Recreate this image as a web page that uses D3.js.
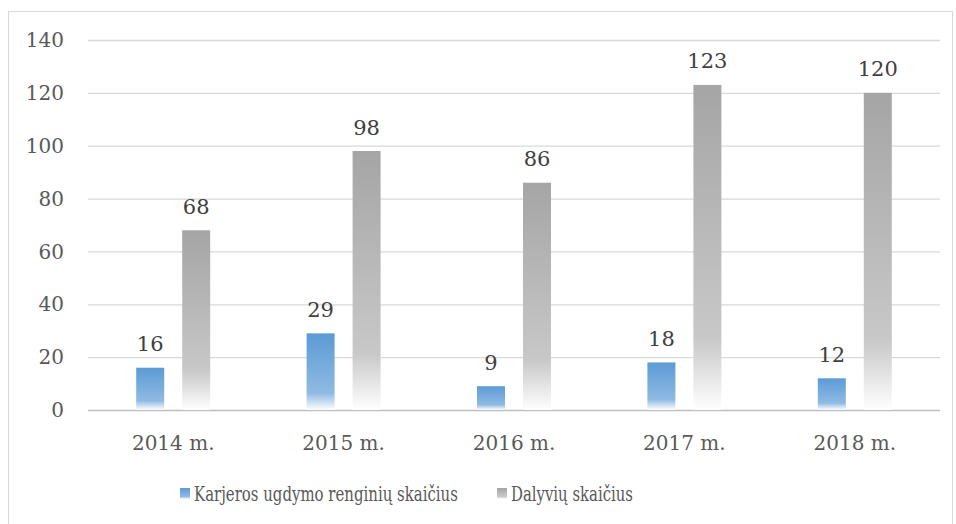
<!DOCTYPE html>
<html>
<head>
<meta charset="utf-8">
<script src="https://cdn.jsdelivr.net/npm/d3@7"></script>
<style>
  body { margin: 0; background: #fff; }
  svg { font-family: "DejaVu Serif", serif; }
</style>
</head>
<body>
<svg id="chart"></svg>
<script>
// chart data
var years = ["2014 m.", "2015 m.", "2016 m.", "2017 m.", "2018 m."];
var renginiai = [16, 29, 9, 18, 12];
var dalyviai = [68, 98, 86, 123, 120];
var seriesNames = ["Karjeros ugdymo renginių skaičius", "Dalyvių skaičius"];
var yTicks = [0, 20, 40, 60, 80, 100, 120, 140];

var W = 956, H = 524;
var margin = {top: 40, right: 16, bottom: 114, left: 88};
var width = W - margin.left - margin.right,
    height = H - margin.top - margin.bottom;

var svg = d3.select("#chart").attr("width", W).attr("height", H);

// gradients for the bars
var defs = svg.append("defs");
function grad(id, top, mid) {
  var g = defs.append("linearGradient").attr("id", id)
      .attr("x1", 0).attr("y1", 0).attr("x2", 0).attr("y2", 1);
  g.append("stop").attr("offset", "0%").attr("stop-color", top);
  g.append("stop").attr("offset", "78%").attr("stop-color", mid);
  g.append("stop").attr("offset", "100%").attr("stop-color", "#ffffff");
}
grad("gBlue", "#5b9bd5", "#8fbae3");
grad("gGray", "#a5a5a5", "#c8c8c8");

// outer frame
svg.append("rect")
    .attr("x", 8.5).attr("y", 11.5)
    .attr("width", W - 12).attr("height", H - 10)
    .attr("fill", "none").attr("stroke", "#d9d9d9");

var g = svg.append("g").attr("transform", "translate(" + margin.left + "," + margin.top + ")");

var x0 = d3.scaleBand().domain(years).range([0, width]);
var y = d3.scaleLinear().domain([0, 140]).range([height, 0]);

// gridlines
g.selectAll(".grid").data(yTicks).enter().append("line")
    .attr("x1", 0).attr("x2", width)
    .attr("y1", function(d){ return y(d) + 0.5; })
    .attr("y2", function(d){ return y(d) + 0.5; })
    .attr("stroke", function(d){ return d === 0 ? "#bfbfbf" : "#d9d9d9"; })
    .attr("stroke-width", 1.3);

// y tick labels
g.selectAll(".ylab").data(yTicks).enter().append("text")
    .attr("x", -24).attr("y", function(d){ return y(d); })
    .attr("dy", "0.36em").attr("text-anchor", "end")
    .attr("fill", "#595959").attr("font-size", 20)
    .text(function(d){ return d; });

// x labels
g.selectAll(".xlab").data(years).enter().append("text")
    .attr("x", function(d){ return x0(d) + x0.bandwidth() / 2; })
    .attr("y", height + 40)
    .attr("text-anchor", "middle")
    .attr("fill", "#595959").attr("font-size", 20)
    .text(function(d){ return d; });

var barW = 28, gap = 18;
var series = [
  {vals: renginiai, fill: "url(#gBlue)", off: -(gap / 2 + barW)},
  {vals: dalyviai, fill: "url(#gGray)", off: gap / 2}
];

series.forEach(function(s) {
  var grp = g.append("g");
  grp.selectAll("rect").data(s.vals).enter().append("rect")
      .attr("x", function(d, i){ return x0(years[i]) + x0.bandwidth() / 2 + s.off; })
      .attr("y", function(d){ return y(d); })
      .attr("width", barW)
      .attr("height", function(d){ return y(0) - y(d); })
      .attr("fill", s.fill);
  grp.selectAll("text").data(s.vals).enter().append("text")
      .attr("x", function(d, i){ return x0(years[i]) + x0.bandwidth() / 2 + s.off + barW / 2; })
      .attr("y", function(d){ return y(d) - 16.5; })
      .attr("text-anchor", "middle")
      .attr("fill", "#404040").attr("font-size", 21)
      .text(function(d){ return d; });
});

// legend: squeeze horizontally to the narrower width of the original face
var legend = svg.append("g");
var legX = [180, 497];
var legLen = [264, 122];
seriesNames.forEach(function(name, i) {
  legend.append("rect")
      .attr("x", legX[i]).attr("y", 488).attr("width", 10).attr("height", 11)
      .attr("fill", i === 0 ? "url(#gBlue)" : "url(#gGray)");
  var t = legend.append("text")
      .attr("x", 0).attr("y", 0)
      .attr("fill", "#595959").attr("font-size", 21)
      .text(name);
  var sx = legLen[i] / t.node().getComputedTextLength();
  t.attr("transform", "translate(" + (legX[i] + 14) + ",501) scale(" + sx + ",1)");
});
</script>
</body>
</html>
